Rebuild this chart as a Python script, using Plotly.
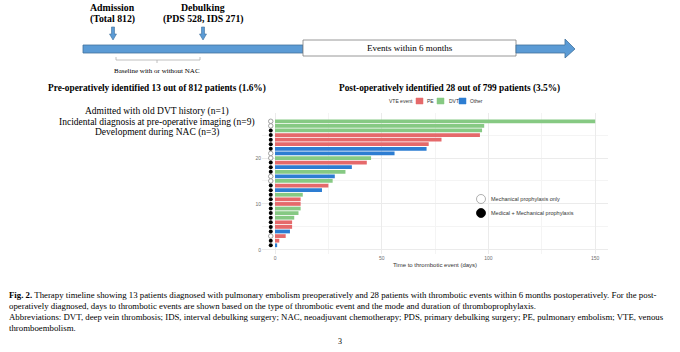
import plotly.graph_objects as go

W, H = 680, 352
def X(px): return px / W
def Y(py): return 1 - py / H

# ---- data ----
patient = list(range(1, 29))
days = [1, 2, 5, 7, 8, 8, 9, 11, 12, 12, 12, 13, 22, 25, 27, 28, 33, 36, 43, 45,
        56, 71, 72, 78, 96, 97, 98, 150]
event = ["Other", "PE", "PE", "Other", "PE", "PE", "DVT", "DVT", "DVT", "PE", "PE", "DVT",
         "Other", "PE", "DVT", "Other", "DVT", "Other", "PE", "DVT", "Other", "Other",
         "PE", "PE", "PE", "DVT", "DVT", "DVT"]
prophylaxis = ["Med", "Med", "Mech", "Med", "Med", "Med", "Med", "Med", "Med", "Med", "Med", "Med",
               "Med", "Med", "Mech", "Mech", "Med", "Med", "Med", "Mech", "Mech", "Med",
               "Med", "Med", "Med", "Med", "Mech", "Mech"]
event_types = ["PE", "DVT", "Other"]
event_colors = {"PE": "#E5696B", "DVT": "#86C983", "Other": "#2D7DD2"}
x_ticks = [0, 50, 100, 150]
y_ticks = [0, 10, 20]

SERIF = "Liberation Serif"
SANS = "Liberation Sans"

fig = go.Figure()
for ev in event_types:
    ys = [p for p, e in zip(patient, event) if e == ev]
    xs = [d for d, e in zip(days, event) if e == ev]
    fig.add_trace(go.Bar(x=xs, y=ys, orientation="h", width=0.82,
                         marker=dict(color=event_colors[ev], line=dict(width=0)),
                         showlegend=False, hoverinfo="skip"))

mech_y = [p for p, pr in zip(patient, prophylaxis) if pr == "Mech"]
med_y = [p for p, pr in zip(patient, prophylaxis) if pr == "Med"]
fig.add_trace(go.Scatter(x=[-2] * len(mech_y), y=mech_y, mode="markers",
                         marker=dict(symbol="circle", size=4.5, color="white",
                                     line=dict(color="#8A8A8A", width=0.8)),
                         showlegend=False, hoverinfo="skip"))
fig.add_trace(go.Scatter(x=[-2] * len(med_y), y=med_y, mode="markers",
                         marker=dict(symbol="circle", size=4, color="black"),
                         showlegend=False, hoverinfo="skip"))

fig.update_layout(
    width=W, height=H, margin=dict(l=0, r=0, t=0, b=0),
    paper_bgcolor="white", plot_bgcolor="white", barmode="overlay",
    xaxis=dict(domain=[X(262), X(608)], range=[-6.1, 156], tickvals=x_ticks,
               showgrid=True, gridcolor="#EBEBEB", gridwidth=1, zeroline=False,
               showline=False, ticks="", tickfont=dict(family=SANS, size=5, color="#6E6E6E"),
               minor=dict(tickvals=[25, 75, 125], showgrid=True, gridcolor="#F4F4F4"),
               title=dict(text="Time to thrombotic event (days)",
                          font=dict(family=SANS, size=6, color="#333"), standoff=2)),
    yaxis=dict(domain=[Y(254), Y(113)], range=[-0.9, 29.8], tickvals=y_ticks,
               showgrid=True, gridcolor="#EBEBEB", gridwidth=1, zeroline=False,
               showline=False, ticks="", tickfont=dict(family=SANS, size=5, color="#6E6E6E"),
               minor=dict(tickvals=[5, 15, 25], showgrid=True, gridcolor="#F4F4F4")),
)

shapes = []
ann = []

def text(px, py, s, size, family=SERIF, color="black", xanchor="center", align="center"):
    ann.append(dict(x=X(px), y=Y(py), xref="paper", yref="paper", text=s, showarrow=False,
                    xanchor=xanchor, yanchor="middle", align=align,
                    font=dict(family=family, size=size, color=color)))

def rect(x0, y0, x1, y1, fill, line, lw=0.8):
    shapes.append(dict(type="rect", xref="paper", yref="paper", x0=X(x0), x1=X(x1),
                       y0=Y(y1), y1=Y(y0), fillcolor=fill, line=dict(color=line, width=lw)))

def path(pts, fill, line, lw=0.8):
    d = "M " + " L ".join(f"{X(a):.5f},{Y(b):.5f}" for a, b in pts) + " Z"
    shapes.append(dict(type="path", xref="paper", yref="paper", path=d,
                       fillcolor=fill, line=dict(color=line, width=lw)))

def seg(x0, y0, x1, y1, color, lw=0.8):
    shapes.append(dict(type="line", xref="paper", yref="paper", x0=X(x0), y0=Y(y0),
                       x1=X(x1), y1=Y(y1), line=dict(color=color, width=lw)))

BLUE = "#5B9BD5"
BLUE_L = "#41719C"

# timeline
rect(83, 45, 303, 53, BLUE, BLUE_L)
rect(303, 40, 516, 56, "white", "#7F7F7F", 0.8)
path([(516, 45), (565, 45), (565, 39), (575, 49), (565, 58), (565, 53), (516, 53)], BLUE, BLUE_L)
# down arrows
for ax in (113, 203):
    path([(ax - 1.5, 27), (ax + 1.5, 27), (ax + 1.5, 34), (ax + 3.5, 34), (ax, 40),
          (ax - 3.5, 34), (ax - 1.5, 34)], BLUE, BLUE_L, 0.6)
# bracket
seg(116, 60, 200, 60, "#B0B0B0")
seg(116, 57, 116, 60, "#B0B0B0")
seg(200, 57, 200, 60, "#B0B0B0")
seg(157, 60, 157, 63, "#B0B0B0")

text(112, 8, "<b>Admission</b>", 9.8)
text(112, 19, "<b>(Total 812)</b>", 9.8)
text(203, 8, "<b>Debulking</b>", 9.8)
text(203, 19, "<b>(PDS 528, IDS 271)</b>", 9.8)
text(410, 48, "Events within 6 months", 9)
text(157, 71, "Baseline with or without NAC", 7)
text(157, 88, "<b>Pre-operatively identified 13 out of 812 patients (1.6%)</b>", 9.3)
text(449, 88, "<b>Post-operatively identified 28 out of 799 patients (3.5%)</b>", 9.3)
text(157, 112, "Admitted with old DVT history (n=1)", 9.5)
text(157, 122, "Incidental diagnosis at pre-operative imaging (n=9)", 9.5)
text(157, 132, "Development during NAC (n=3)", 9.5)

# VTE legend
text(387, 101, "VTE event", 5, SANS, "#333", "left")
legend_pos = [(416, 425), (437, 447), (459, 468)]
for ev, (sx, tx) in zip(event_types, legend_pos):
    rect(sx, 98, sx + 7, 104, event_colors[ev], event_colors[ev], 0.5)
    text(tx, 101, ev, 5, SANS, "#333", "left")

# prophylaxis legend
shapes.append(dict(type="circle", xref="paper", yref="paper", x0=X(476.5), x1=X(485.5),
                   y0=Y(203.5), y1=Y(194.5), fillcolor="white", line=dict(color="#9A9A9A", width=0.8)))
shapes.append(dict(type="circle", xref="paper", yref="paper", x0=X(476.5), x1=X(485.5),
                   y0=Y(217.5), y1=Y(208.5), fillcolor="black", line=dict(color="black", width=0.8)))
text(489, 199, "Mechanical prophylaxis only", 5.5, SANS, "#333", "left")
text(489, 213, "Medical + Mechanical prophylaxis", 5.5, SANS, "#333", "left")

# caption
cap = [
    "<b>Fig. 2.</b> Therapy timeline showing 13 patients diagnosed with pulmonary embolism preoperatively and 28 patients with thrombotic events within 6 months postoperatively. For the post-",
    "operatively diagnosed, days to thrombotic events are shown based on the type of thrombotic event and the mode and duration of thromboprophylaxis.",
    "Abbreviations: DVT, deep vein thrombosis; IDS, interval debulking surgery; NAC, neoadjuvant chemotherapy; PDS, primary debulking surgery; PE, pulmonary embolism; VTE, venous",
    "thromboembolism.",
]
for i, line in enumerate(cap):
    text(7, 295 + 11 * i, line, 8.8, SERIF, "black", "left", "left")
text(340, 341, "3", 8)

fig.update_layout(shapes=shapes, annotations=ann)
fig.write_html("out.html")
